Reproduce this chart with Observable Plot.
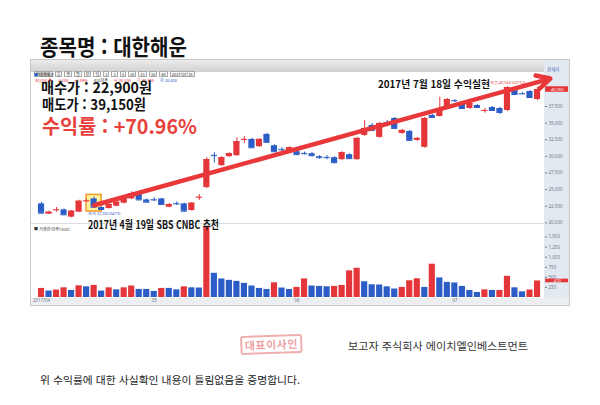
<!DOCTYPE html>
<html lang="ko"><head><meta charset="utf-8">
<script src="https://cdn.jsdelivr.net/npm/d3@7"></script>
<script src="https://cdn.jsdelivr.net/npm/@observablehq/plot@0.6"></script>
<style>
html,body{margin:0;padding:0;background:#fff;}
body{width:600px;height:405px;position:relative;overflow:hidden;font-family:"Noto Sans CJK KR","Noto Sans",sans-serif;color:#111;}
.a{position:absolute;white-space:nowrap;line-height:1;transform-origin:0 0;}
.a svg{display:block;}
.tb span{display:inline-block;margin-right:2px;padding:0 1px;background:#fafafa;border:1px solid #a9a9a9;font-size:4px;line-height:4px;color:#333;}
.tb2 span{display:inline-block;margin-right:6px;font-size:4px;line-height:4px;}
</style></head><body>

<div class="a fit" data-w="147" style="left:40px;top:34px;font-size:22px;font-weight:700;">종목명 : 대한해운</div>

<div class="a" style="left:30px;top:59px;width:540px;height:247px;border:1px solid #c8c8c8;box-sizing:border-box;background:#fff"></div>
<div class="a" id="toolbar" style="left:31px;top:60px;width:513px;height:12px;background:linear-gradient(#ececec,#d0d0d0);"></div>
<div class="a" style="left:544px;top:60px;width:25px;height:245px;background:#e3e9f1;"></div>
<div class="a" style="left:31px;top:298px;width:538px;height:7px;background:#eceef1;"></div>
<div class="a" style="left:31px;top:223px;width:513px;height:1px;background:#d9dee5;"></div>
<div class="a" style="left:547px;top:67px;font-size:4.5px;color:#3a64b8;">현재가</div>
<div class="a" style="left:34px;top:73px;font-size:4px;color:#333;"><span style="color:#2c5cc5">■</span> 대한해운</div>
<div class="a" id="volLabel" style="left:34px;top:227px;font-size:4px;color:#333;"></div>

<div class="a" id="price" style="left:30px;top:75px;"></div>
<div class="a" id="volume" style="left:30px;top:224px;"></div>

<div class="a fit" data-w="111" style="left:41px;top:80px;font-size:14.5px;font-weight:700;">매수가 : 22,900원</div>
<div class="a fit" data-w="104" style="left:42px;top:96.5px;font-size:14.5px;font-weight:700;">매도가 : 39,150원</div>
<div class="a fit" data-w="155" style="left:42px;top:116px;font-size:20px;font-weight:700;color:#e8403a;">수익률 : +70.96%</div>
<div class="a fit" data-w="112" style="left:378px;top:79px;font-size:10px;font-weight:700;">2017년 7월 18일 수익실현</div>
<div class="a fit" data-w="131" style="left:88px;top:219px;font-size:11px;font-weight:700;">2017년 4월 19일 SBS CNBC 추천</div>

<div class="a" style="left:240px;top:336px;width:62px;height:19px;border:2px solid rgba(225,110,110,0.55);border-radius:3px;box-sizing:border-box;transform:rotate(-2deg);color:rgba(225,95,95,0.6);font-size:11px;font-weight:700;text-align:center;line-height:15px;letter-spacing:0.5px;">대표이사인</div>
<div class="a fit" data-w="180" style="left:348px;top:341px;font-size:10.5px;color:#333;">보고자 주식회사 에이치엘인베스트먼트</div>
<div class="a fit" data-w="260" style="left:40px;top:375px;font-size:10px;color:#222;">위 수익률에 대한 사실확인 내용이 틀림없음을 증명합니다.</div>

<script>
// ---- data (daily candles, 2017) ----
const dates = ["04/10","04/11","04/12","04/13","04/14","04/17","04/18","04/19","04/20","04/21","04/24","04/25","04/26","04/27","04/28",
"05/02","05/04","05/08","05/10","05/11","05/12","05/15","05/16","05/17","05/18","05/19","05/22","05/23","05/24","05/25","05/26","05/29","05/30","05/31",
"06/01","06/02","06/05","06/07","06/08","06/09","06/12","06/13","06/14","06/15","06/16","06/19","06/20","06/21","06/22","06/23","06/26","06/27","06/28","06/29","06/30",
"07/03","07/04","07/05","07/06","07/07","07/10","07/11","07/12","07/13","07/14","07/17","07/18"];
const open  = [22850,21300,21900,21950,20850,21600,23250,23600,22300,22150,22500,22950,23600,24450,23450,23500,23600,22350,22900,22850,21850,23800,25300,30150,28600,29950,30100,32500,32550,31450,33300,31600,31050,30550,30700,30450,30400,29950,29850,29800,29500,30250,29500,33150,34650,32850,35100,35700,33450,33750,32400,31350,36150,36000,37200,38400,38100,37200,37650,36850,37350,37200,36900,40050,39450,39750,38550];
const high  = [23100,21750,22300,22100,21850,23400,23550,23900,22400,22850,23200,23950,24650,24600,23600,23750,23700,22900,23150,22950,23050,24250,29800,30550,29950,30550,32800,33000,32700,32650,33450,31750,31300,31450,30850,30650,30550,30100,30100,29950,30700,30400,32850,35400,34950,35100,35400,35850,34050,33900,32850,35850,36300,38900,38700,38550,38250,38100,37800,37200,37500,37350,40500,40200,39600,39900,40400];
const low   = [21350,21250,21600,21100,20750,21550,23100,22200,21900,22050,22400,22850,23500,23350,23000,23200,22650,22250,22600,21650,21750,23350,25150,29000,28500,29850,30000,31950,31200,31350,31950,30600,30700,30450,30150,30200,29900,29550,29500,28850,29400,29550,29400,33000,33750,32700,34800,34050,33300,32250,32250,31200,35700,35900,37050,38100,37050,37050,37200,36500,36750,36300,36750,39150,39300,38700,38400];
const close = [21450,21600,21950,21200,21750,23250,23300,22350,22000,22750,23100,23850,24350,23450,23100,23450,22750,22750,22850,21750,22950,23850,29500,30100,29800,30400,32200,32550,31300,32550,32100,30700,31000,31300,30250,30400,30100,29800,29800,29050,30550,29650,32700,34200,33900,34950,35050,34200,33900,32400,32700,35700,35850,37200,38550,38350,37200,37950,37350,36900,36900,36600,40350,39300,39400,38850,40050];
// volume in thousands of shares
const volume = [225,160,185,240,175,290,265,300,160,240,190,240,285,200,200,150,225,225,190,265,240,235,1750,600,460,425,400,350,285,225,200,365,235,200,250,460,285,275,265,275,300,660,725,390,315,310,265,210,250,415,465,250,825,485,375,360,275,175,125,190,175,175,525,240,140,185,410];
// change vs previous day used for volume colouring (1 up, -1 down)
const volChange = [1,-1,1,1,-1,1,-1,1,-1,1,-1,1,1,-1,-1,-1,1,-1,-1,1,-1,-1,1,-1,-1,-1,-1,-1,-1,-1,-1,1,-1,-1,1,1,-1,-1,-1,1,1,1,1,-1,-1,-1,-1,-1,1,1,1,-1,1,-1,-1,-1,-1,-1,-1,1,-1,1,1,-1,-1,1,1];
const priceTicks = [20000,22500,25000,27500,30000,32500,35000,37500,40000];
const volumeTicks = [250,500,750,1000,1250,1500];
const buyDate = "04/19", buyPrice = 22900, sellDate = "07/18", sellPrice = 39150;
const arrowEndPrice = 41700;

// ---- build ----
const RED = "#e4363a", BLUE = "#2c5cc5";
const fmt = d3.format(",");
const rows = dates.map((d, i) => ({i, date: d, o: open[i], h: high[i], l: low[i], c: close[i]}));
const col = d => d.c >= d.o ? RED : BLUE;
const vrows = dates.map((d, i) => ({i, v: volume[i], dir: volChange[i]}));
const n = dates.length;
const xDomain = [-0.4, n - 1 + 0.93];
const bw = 0.41;
const buyIdx = dates.indexOf(buyDate), sellIdx = dates.indexOf(sellDate);
const buyRow = rows[buyIdx];
const last = rows[n - 1];
const maxRow = rows.reduce((a, b) => b.h > a.h ? b : a);
const monthStarts = dates.map((d, i) => i).filter(i => i === 0 || dates[i].slice(0, 2) !== dates[i - 1].slice(0, 2));
const monthLabel = i => i === 0 ? "2017/" + dates[i].slice(0, 2) : dates[i].slice(0, 2);

const common = {width: 540, marginLeft: 8, marginRight: 26, color: {type: "identity"},
  style: {background: "transparent", fontSize: "4.5px", color: "#6f7987", fontFamily: "Noto Sans, sans-serif", overflow: "visible"}};

const pricePlot = Plot.plot({
  ...common, height: 148, marginTop: 0, marginBottom: 0,
  x: {domain: xDomain, axis: null},
  y: {domain: [19900, 42160], axis: "right", ticks: priceTicks, tickFormat: fmt, tickSize: 2, tickPadding: 2, label: null},
  marks: [
    Plot.rect([buyRow], {x1: d => d.i - 1, x2: d => d.i + 1, y1: d => d.l - 500, y2: d => d.h + 300, fill: "#fff2a0", stroke: "#f0a030", strokeWidth: 1.6}),
    Plot.ruleX(rows, {x: "i", y1: "l", y2: "h", stroke: col, strokeWidth: 1}),
    Plot.rect(rows, {x1: d => d.i - bw, x2: d => d.i + bw, y1: "o", y2: "c", fill: col}),
    Plot.ruleY(rows, {x1: d => d.i - bw, x2: d => d.i + bw, y: "c", stroke: col, strokeWidth: 1}),
    Plot.text([maxRow], {x: "i", y: "h", text: d => `최고 ${fmt(d.h)} (${d.date})`, fill: RED, fontSize: 4, dy: -4}),
    Plot.text([buyRow], {x: "i", y: "l", text: d => `최저 ${fmt(d.l)} (${d.date})`, fill: BLUE, fontSize: 3.5, dy: 6, dx: -6, textAnchor: "start"}),
    Plot.arrow([{x1: buyIdx, y1: buyPrice - 250, x2: sellIdx + 1.7, y2: arrowEndPrice}], {x1: "x1", y1: "y1", x2: "x2", y2: "y2", stroke: "#e8383a", strokeWidth: 4.5, headLength: 5, headAngle: 55}),
    Plot.rect([last], {x1: xDomain[1] + 0.15, x2: xDomain[1] + 3.2, y1: d => d.c - 420, y2: d => d.c + 420, fill: RED}),
    Plot.text([last], {x: xDomain[1] + 1.7, y: "c", text: d => fmt(d.c), fill: "white", fontSize: 4})
  ]
});
document.getElementById("price").append(pricePlot);

const lastV = vrows[n - 1];
const volumePlot = Plot.plot({
  ...common, height: 81, marginTop: 2, marginBottom: 8,
  x: {domain: xDomain, axis: "bottom", ticks: monthStarts, tickFormat: monthLabel, tickSize: 0, tickPadding: 1.5, label: null},
  y: {domain: [0, 1760], axis: "right", ticks: volumeTicks, tickFormat: fmt, tickSize: 2, tickPadding: 2, label: null},
  marks: [
    Plot.rectY(vrows, {x1: d => d.i - bw, x2: d => d.i + bw, y: "v", fill: d => d.dir > 0 ? RED : BLUE}),
    Plot.rect([lastV], {x1: xDomain[1] + 0.15, x2: xDomain[1] + 3.2, y1: d => d.v - 45, y2: d => d.v + 45, fill: RED}),
    Plot.text([lastV], {x: xDomain[1] + 1.7, y: "v", text: d => fmt(d.v), fill: "white", fontSize: 4})
  ]
});
document.getElementById("volume").append(volumePlot);
document.getElementById("volLabel").textContent = `■ 거래량(천주)(${fmt(lastV.v)})`;

// toolbar (HTS header)
const prev = rows[n - 2];
const chg = last.c - prev.c;
const tb = document.getElementById("toolbar");
tb.innerHTML = `<div class="a tb" style="left:3px;top:0.5px;">${["대한해운","일","주","월","분","틱","1","3","5","10","15","30","60","2017/"+last.date].map(s=>`<span>${s}</span>`).join("")}</div>
<div class="a tb2" style="left:4px;top:7px;"><span style="color:${RED}">${fmt(last.c)} ▲</span><span style="color:${RED}">${fmt(chg)}</span><span style="color:${RED}">+${(chg/prev.c*100).toFixed(2)}%</span><span style="color:#333">${fmt(lastV.v)}천주</span><span style="color:${RED}">시 ${fmt(last.o)}</span><span style="color:${RED}">고 ${fmt(last.h)}</span><span style="color:${BLUE}">저 ${fmt(last.l)}</span></div>`;

function fitAll() {
  document.querySelectorAll(".fit").forEach(el => {
    el.style.transform = "none";
    const w = el.getBoundingClientRect().width;
    const t = +el.dataset.w;
    if (w > 0) el.style.transform = `scaleX(${t / w})`;
  });
}
fitAll();
if (document.fonts && document.fonts.ready) document.fonts.ready.then(fitAll);
</script>
</body></html>
